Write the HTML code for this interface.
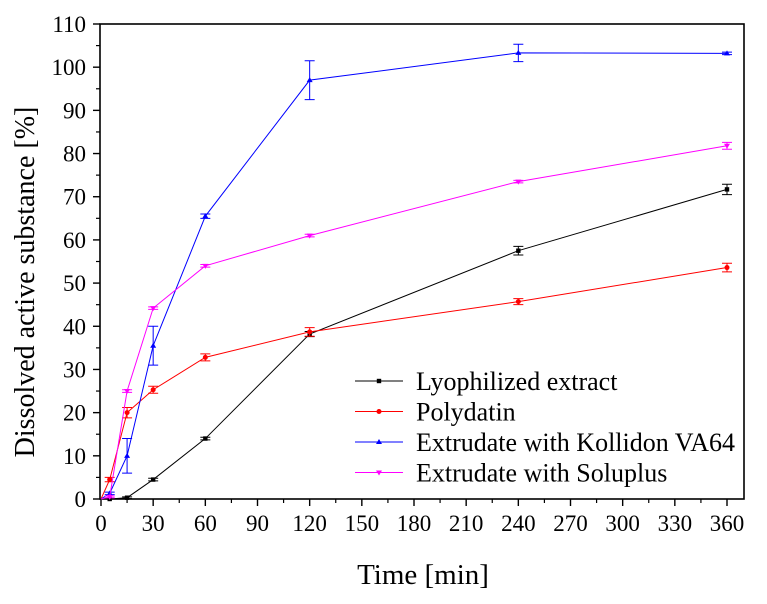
<!DOCTYPE html>
<html><head><meta charset="utf-8"><style>
html,body{margin:0;padding:0;background:#fff;}
svg{display:block;font-family:"Liberation Serif","Times New Roman",serif;}
</style></head><body>
<svg id="c" width="767" height="604" viewBox="0 0 767 604">
<rect x="100" y="24" width="644" height="475" fill="none" stroke="#000" stroke-width="1.6"/>
<g id="axes"></g><g id="series"></g>
<text x="423" y="584" font-size="29" text-anchor="middle">Time [min]</text>
<text transform="translate(34,282) rotate(-90)" font-size="28" text-anchor="middle">Dissolved active substance [%]</text>
<g id="legend"></g>
</svg>
<script>
const times=[0,5,15,30,60,120,240,360];
const lyo=[0,0,0.3,4.5,14,38.2,57.5,71.7];
const lyoErr=[0,0,0.2,0.3,0.3,0.6,1.0,1.2];
const poly=[0,4.5,20,25.3,32.8,38.7,45.7,53.6];
const polyErr=[0,0.5,1.2,0.8,0.8,1.0,0.7,1.0];
const koll=[0,1.3,10,35.5,65.5,97,103.3,103.2];
const kollErr=[0,0.3,4,4.5,0.5,4.5,2,0.3];
const solu=[0,0.5,25,44.2,54,61,73.5,81.8];
const soluErr=[0,0.2,0.3,0.3,0.3,0.3,0.3,0.8];
const xTicks=[0,30,60,90,120,150,180,210,240,270,300,330,360];
const yTicks=[0,10,20,30,40,50,60,70,80,90,100,110];
const names=["Lyophilized extract","Polydatin","Extrudate with Kollidon VA64","Extrudate with Soluplus"];
const colors=["#000000","#ff0000","#0000ff","#ff00ff"];
const NS="http://www.w3.org/2000/svg";
const xs=v=>101+v*626/360, ys=v=>499-v*475/110;
function mk(t,a,p){const e=document.createElementNS(NS,t);for(const k in a)e.setAttribute(k,a[k]);p.appendChild(e);return e;}
const ax=document.getElementById('axes');
xTicks.forEach((t,i)=>{
 const l=mk('line',{x1:xs(t),x2:xs(t),y1:499,y2:506,stroke:'#000','stroke-width':1.4},ax);
 
 
 if(i<xTicks.length-1){const m=mk('line',{x1:xs(t+15),x2:xs(t+15),y1:499,y2:503,stroke:'#000','stroke-width':1.2},ax);
 
 }
 const tx=mk('text',{x:xs(t),y:531,'font-size':23,'text-anchor':'middle'},ax);tx.textContent=t;
 
 
});
yTicks.forEach((t,i)=>{
 const l=mk('line',{x1:93,x2:100,y1:ys(t),y2:ys(t),stroke:'#000','stroke-width':1.4},ax);
 
 
 if(i<yTicks.length-1){const m=mk('line',{x1:96,x2:100,y1:ys(t+5),y2:ys(t+5),stroke:'#000','stroke-width':1.2},ax);
 
 }
 const tx=mk('text',{x:86,y:ys(t)+8,'font-size':23,'text-anchor':'end'},ax);tx.textContent=t;
 
 
});
const sg=document.getElementById('series');
[[lyo,lyoErr],[poly,polyErr],[koll,kollErr],[solu,soluErr]].forEach(([d,e],si)=>{
 const c=colors[si];
 const g=mk('g',{},sg);
 
 
 const pl=mk('polyline',{points:times.map((t,i)=>xs(t)+','+ys(d[i])).join(' '),fill:'none',stroke:c,'stroke-width':1},g);
 
 
 times.forEach((t,i)=>{
  if(t===0)return;
  const x=xs(t),y=ys(d[i]),y1=ys(d[i]+e[i]),y2=ys(d[i]-e[i]);
  const eb=mk('path',{d:`M${x},${y1}V${y2}M${x-5},${y1}H${x+5}M${x-5},${y2}H${x+5}`,stroke:c,'stroke-width':1,fill:'none'},g);
  
  
  let m;
  if(si===0)m=mk('rect',{x:x-2.2,y:y-2.2,width:4.4,height:4.4,fill:c},g);
  else if(si===1)m=mk('circle',{cx:x,cy:y,r:2.5,fill:c},g);
  else if(si===2)m=mk('path',{d:`M${x},${y-3}L${x+3},${y+2}L${x-3},${y+2}Z`,fill:c},g);
  else m=mk('path',{d:`M${x},${y+3}L${x+3},${y-2}L${x-3},${y-2}Z`,fill:c},g);
  
  
 });
});
const lg=document.getElementById('legend');
names.forEach((n,i)=>{
 const y=381+i*30.5;
 const g=mk('g',{},lg);
 
 
 mk('line',{x1:355,x2:403,y1:y,y2:y,stroke:colors[i],'stroke-width':1},g);
 const x=379;
 if(i===0)mk('rect',{x:x-2.2,y:y-2.2,width:4.4,height:4.4,fill:colors[i]},g);
 else if(i===1)mk('circle',{cx:x,cy:y,r:2.5,fill:colors[i]},g);
 else if(i===2)mk('path',{d:`M${x},${y-3}L${x+3},${y+2}L${x-3},${y+2}Z`,fill:colors[i]},g);
 else mk('path',{d:`M${x},${y+3}L${x+3},${y-2}L${x-3},${y-2}Z`,fill:colors[i]},g);
 const t=mk('text',{x:416,y:y+9,'font-size':26},g);t.textContent=n;
});
</script>
</body></html>
